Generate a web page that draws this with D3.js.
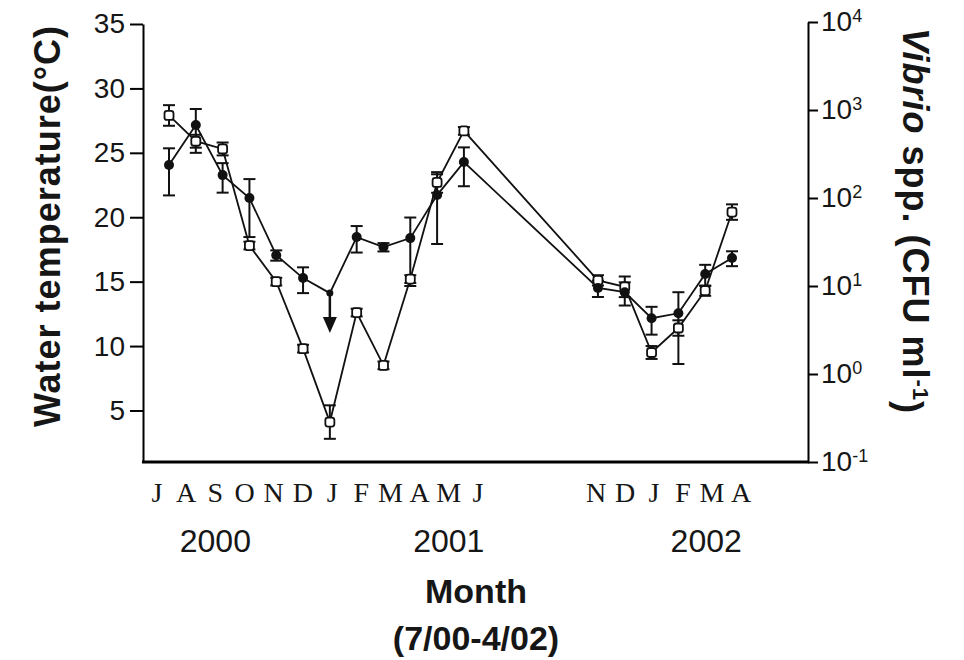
<!DOCTYPE html>
<html lang="en">
<head>
<meta charset="UTF-8" />
<title>Water temperature and Vibrio spp.</title>
<script src="https://cdn.jsdelivr.net/npm/d3@7"></script>
<style>
  body { margin: 0; background: #fff; }
  text { fill: #161616; font-family: "Liberation Sans", Arial, sans-serif; }
  .month { font-family: "Liberation Serif", "Times New Roman", serif; }
</style>
</head>
<body>
<div id="chart"></div>
<script>
// months counted from July 2000 (0) to April 2002 (21)
const monthIndex = [0, 1, 2, 3, 4, 5, 6, 7, 8, 9, 10, 11, 16, 17, 18, 19, 20, 21];
const temperature = [27.9, 25.9, 25.3, 17.8, 15.0, 9.8, 4.1, 12.6, 8.5, 15.2, 22.7, 26.7,
                     15.1, 14.6, 9.5, 11.4, 14.3, 20.4];
const temperatureErr = [0.8, 0.5, 0.5, 0.3, 0.3, 0.3, 1.3, 0.3, 0.3, 0.3, 0.8, 0.3,
                        0.4, 0.8, 0.5, 0.6, 0.4, 0.6];
const vibrio = [237, 676, 182, 100, 22.4, 12.3, 8.3, 36, 27.7, 35, 108, 256,
                9.5, 8.5, 4.3, 4.9, 13.7, 20.8];
const vibrioErr = [130, 350, 67, 64, 3, 4, 0, 12, 3, 25, 78, 120,
                   2, 2.5, 1.5, 3.6, 3.7, 4];
const belowDetection = [6]; // Jan 2001, shown with arrow

const tempTicks = [5, 10, 15, 20, 25, 30, 35];
const vibrioTicks = [-1, 0, 1, 2, 3, 4]; // exponents
const monthLabelsA = ["J", "A", "S", "O", "N", "D", "J", "F", "M", "A", "M", "J"];
const monthLabelsB = ["N", "D", "J", "F", "M", "A"];
const yearLabels = [
  { text: "2000", group: "A", at: 2 },
  { text: "2001", group: "A", at: 10 },
  { text: "2002", group: "B", at: 3.8 }
];

const width = 964, height = 660;
const plotLeft = 143, plotRight = 808, plotTop = 22, plotBottom = 462;

const svg = d3.select("#chart").append("svg")
  .attr("width", width).attr("height", height);
svg.append("rect").attr("width", width).attr("height", height).attr("fill", "#fff");

const x = d3.scaleLinear().domain([0, 21]).range([169, 732]);
const yT = d3.scaleLinear().domain([1, 35]).range([plotBottom, 24]);
const yV = d3.scaleLog().domain([0.1, 1e4]).range([plotBottom, plotTop]);

const labelA = d3.scalePoint().domain(d3.range(monthLabelsA.length)).range([157, 478]);
const labelB = d3.scalePoint().domain(d3.range(monthLabelsB.length)).range([596, 741]);

// left axis
const leftAxis = svg.append("g")
  .attr("transform", `translate(${plotLeft},0)`)
  .call(d3.axisLeft(yT).tickValues(tempTicks).tickSize(13).tickSizeOuter(0).tickPadding(5));
leftAxis.select(".domain").attr("stroke-width", 2);
leftAxis.selectAll(".tick line").attr("stroke-width", 2);
leftAxis.selectAll(".tick text").attr("font-size", 28).attr("fill", "#161616")
  .attr("font-family", "Liberation Sans, Arial, sans-serif");
svg.append("line")
  .attr("x1", plotLeft).attr("x2", plotLeft)
  .attr("y1", yT.range()[0]).attr("y2", plotBottom)
  .attr("stroke", "#000").attr("stroke-width", 2);

// right axis (log)
const rightAxis = svg.append("g")
  .attr("transform", `translate(${plotRight},0)`)
  .call(d3.axisRight(yV).tickValues(vibrioTicks.map(e => Math.pow(10, e)))
    .tickSize(10).tickSizeOuter(0).tickPadding(3).tickFormat(() => ""));
rightAxis.select(".domain").attr("stroke-width", 2);
rightAxis.selectAll(".tick line").attr("stroke-width", 2);
rightAxis.selectAll(".tick text").each(function (d) {
  const t = d3.select(this)
    .attr("font-size", 28).attr("fill", "#161616")
    .attr("font-family", "Liberation Sans, Arial, sans-serif");
  t.text("10");
  t.append("tspan").attr("dy", "-0.5em").attr("font-size", 18)
    .text(Math.round(Math.log10(d)) < 0 ? "-1" : Math.round(Math.log10(d)));
});

// bottom line
svg.append("line")
  .attr("x1", plotLeft - 1).attr("x2", plotRight + 1)
  .attr("y1", plotBottom).attr("y2", plotBottom)
  .attr("stroke", "#000").attr("stroke-width", 3);

// series lines
const tempPts = monthIndex.map((m, i) => [x(m), yT(temperature[i])]);
const vibPts = monthIndex.map((m, i) => [x(m), yV(vibrio[i])]);
const line = d3.line();
svg.append("path").attr("d", line(tempPts)).attr("fill", "none")
  .attr("stroke", "#111").attr("stroke-width", 1.8);
svg.append("path").attr("d", line(vibPts)).attr("fill", "none")
  .attr("stroke", "#111").attr("stroke-width", 1.8);

// error bars
function errorBar(g, cx, y1, y2) {
  g.append("line").attr("x1", cx).attr("x2", cx).attr("y1", y1).attr("y2", y2);
  g.append("line").attr("x1", cx - 6).attr("x2", cx + 6).attr("y1", y1).attr("y2", y1);
  g.append("line").attr("x1", cx - 6).attr("x2", cx + 6).attr("y1", y2).attr("y2", y2);
}
const errG = svg.append("g").attr("stroke", "#111").attr("stroke-width", 2);
monthIndex.forEach((m, i) => {
  errorBar(errG, x(m), yT(temperature[i] + temperatureErr[i]), yT(temperature[i] - temperatureErr[i]));
  if (vibrioErr[i] > 0) {
    const lo = Math.max(vibrio[i] - vibrioErr[i], 0.11);
    errorBar(errG, x(m), yV(vibrio[i] + vibrioErr[i]), yV(lo));
  }
});

// arrow for below detection
belowDetection.forEach(i => {
  const cx = x(monthIndex[i]), cy = yV(vibrio[i]);
  svg.append("line").attr("x1", cx).attr("x2", cx).attr("y1", cy).attr("y2", cy + 26)
    .attr("stroke", "#111").attr("stroke-width", 2.5);
  svg.append("path")
    .attr("d", `M${cx - 7},${cy + 24}L${cx + 7},${cy + 24}L${cx},${cy + 40}Z`)
    .attr("fill", "#111");
});

// markers
svg.append("g").selectAll("rect").data(tempPts).join("rect")
  .attr("x", d => d[0] - 4.5).attr("y", d => d[1] - 4.5)
  .attr("width", 9).attr("height", 9).attr("rx", 2.5)
  .attr("fill", "#fff").attr("stroke", "#111").attr("stroke-width", 1.8);
svg.append("g").selectAll("circle").data(vibPts).join("circle")
  .attr("cx", d => d[0]).attr("cy", d => d[1])
  .attr("r", (d, i) => belowDetection.includes(i) ? 3.5 : 5)
  .attr("fill", "#111");

// month labels
const monthG = svg.append("g").attr("class", "month").attr("font-size", 28)
  .attr("text-anchor", "middle");
monthG.selectAll("text.a").data(monthLabelsA).join("text")
  .attr("class", "month a").attr("x", (d, i) => labelA(i)).attr("y", 502).text(d => d);
monthG.selectAll("text.b").data(monthLabelsB).join("text")
  .attr("class", "month b").attr("x", (d, i) => labelB(i)).attr("y", 502).text(d => d);

svg.append("g").selectAll("text").data(yearLabels).join("text")
  .attr("x", d => {
    const s = d.group === "A" ? labelA : labelB;
    const lo = Math.floor(d.at), f = d.at - lo;
    return s(lo) + f * s.step();
  })
  .attr("y", 552).attr("text-anchor", "middle").attr("font-size", 32)
  .text(d => d.text);

svg.append("text").attr("x", 476).attr("y", 603).attr("text-anchor", "middle")
  .attr("font-size", 34).attr("font-weight", "bold").text("Month");
svg.append("text").attr("x", 476).attr("y", 650).attr("text-anchor", "middle")
  .attr("font-size", 34).attr("font-weight", "bold").text("(7/00-4/02)");

// axis titles
svg.append("text").attr("transform", "translate(60,226) rotate(-90)")
  .attr("text-anchor", "middle").attr("font-size", 36).attr("font-weight", "bold")
  .attr("letter-spacing", 1)
  .text("Water temperature(°C)");

const rt = svg.append("text").attr("transform", "translate(903,221) rotate(90)")
  .attr("text-anchor", "middle").attr("font-size", 36).attr("font-weight", "bold")
  .attr("letter-spacing", 1);
rt.append("tspan").attr("font-style", "italic").text("Vibrio");
rt.append("tspan").text(" spp. (CFU ml");
rt.append("tspan").attr("dy", "-0.45em").attr("font-size", 22).text("-1");
rt.append("tspan").attr("dy", "0.45em").text(")");
</script>
</body>
</html>
